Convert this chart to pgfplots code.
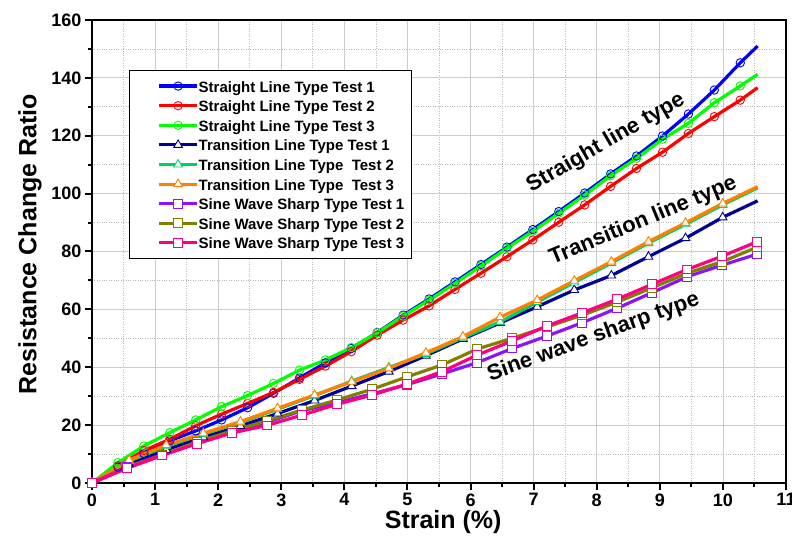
\documentclass[border=0pt]{standalone}
\usepackage{pgfplots}
\pgfplotsset{compat=1.18}
\usepackage{fontspec}
\setmainfont{Liberation Sans}
\definecolor{cS1}{RGB}{0,0,255}
\definecolor{cS2}{RGB}{255,0,0}
\definecolor{cS3}{RGB}{0,255,0}
\definecolor{cT1}{RGB}{0,0,150}
\definecolor{cT2}{RGB}{0,208,104}
\definecolor{cT3}{RGB}{255,128,0}
\definecolor{cW1}{RGB}{140,20,250}
\definecolor{cW2}{RGB}{128,128,0}
\definecolor{cW3}{RGB}{255,0,128}
\pgfplotsset{
  legend image code/.code={\path (0pt,0pt); \draw[#1, mark indices={2}] plot coordinates {(21pt,0pt) (40pt,0pt) (59pt,0pt)};},
  sline/.style={line width=3.2pt, mark=o, mark size=4.2pt, mark options={solid, fill=white, line width=0.9pt}, mark indices={1,...,26}},
  tline/.style={line width=3.2pt, mark=triangle*, mark size=5pt, mark options={solid, fill=white, line width=0.9pt}, mark indices={1,...,18}},
  wline/.style={line width=3.2pt, mark=square*, mark size=4.4pt, mark options={solid, fill=white, line width=0.9pt}},
}
\begin{document}
\begin{tikzpicture}
\begin{axis}[
  name=main, scale only axis, width=694pt, height=463pt,
  xmin=0, xmax=11, ymin=0, ymax=160,
  xtick={0,...,11}, ytick={0,20,...,160},
  minor x tick num=1, minor y tick num=1,
  grid=both,
  major grid style={draw=black!20, line width=0.8pt},
  minor grid style={draw=black!28, dotted, line width=0.8pt},
  axis line style={line width=2.5pt},
  tick align=outside, tick pos=left,
  major tick length=7pt, minor tick length=4pt,
  every tick/.style={black, line width=2pt},
  tick label style={font=\bfseries\fontsize{18}{18}\selectfont},
  /pgf/number format/assume math mode=true,
  xlabel={Strain (\%)}, ylabel={Resistance Change Ratio},
  label style={font=\bfseries\fontsize{25}{25}\selectfont},
  xlabel style={at={(axis description cs:0.506,-0.0842)}, anchor=center},
  ylabel style={at={(axis description cs:-0.0893,0.516)}, anchor=center},
  legend cell align=left,
  legend style={at={(rel axis cs:0.0533,0.892)}, anchor=north west, draw=black, line width=1pt,
    font=\bfseries\fontsize{15}{15}\selectfont, inner xsep=7pt, inner ysep=8.6pt,
    row sep=5.6pt, column sep=0pt,
    nodes={inner sep=0pt, text height=13pt, text depth=1pt}},
]
\addplot[sline, color=cS1] coordinates {(0,0) (0.411,5.5) (0.822,10.2) (1.233,14.6) (1.644,18.0) (2.055,21.8) (2.466,26.0) (2.877,31.0) (3.288,36.3) (3.699,41.5) (4.11,46.5) (4.521,52.0) (4.932,58.0) (5.343,63.6) (5.754,69.5) (6.165,75.5) (6.576,81.5) (6.987,87.6) (7.398,93.8) (7.809,100.2) (8.22,106.8) (8.631,113.0) (9.042,119.9) (9.453,127.5) (9.864,135.8) (10.275,145.2) (10.55,151.0)};
\addlegendentry{Straight Line Type Test 1}
\addplot[sline, color=cS2] coordinates {(0,0) (0.411,6.0) (0.822,11.2) (1.233,15.1) (1.644,19.8) (2.055,23.8) (2.466,27.5) (2.877,31.3) (3.288,35.8) (3.699,40.4) (4.11,45.4) (4.521,51.1) (4.932,56.3) (5.343,61.2) (5.754,66.9) (6.165,72.5) (6.576,78.2) (6.987,84.0) (7.398,90.1) (7.809,96.1) (8.22,102.5) (8.631,108.7) (9.042,114.3) (9.453,120.8) (9.864,126.6) (10.275,132.3) (10.55,136.6)};
\addlegendentry{Straight Line Type Test 2}
\addplot[sline, color=cS3] coordinates {(0,0) (0.411,7.0) (0.822,12.8) (1.233,17.4) (1.644,21.8) (2.055,26.4) (2.466,30.2) (2.877,34.4) (3.288,39.0) (3.699,42.5) (4.11,46.8) (4.521,51.9) (4.932,57.7) (5.343,63.2) (5.754,69.0) (6.165,75.0) (6.576,81.1) (6.987,87.0) (7.398,93.2) (7.809,99.5) (8.22,106.2) (8.631,112.2) (9.042,118.8) (9.453,124.3) (9.864,131.4) (10.275,137.2) (10.55,141.2)};
\addlegendentry{Straight Line Type Test 3}
\addplot[tline, color=cT1] coordinates {(0,0) (0.588,6.5) (1.176,11.5) (1.764,15.8) (2.352,19.7) (2.94,24.0) (3.528,28.5) (4.116,33.5) (4.704,38.5) (5.292,44.0) (5.88,49.8) (6.468,55.3) (7.056,60.9) (7.644,66.7) (8.232,71.7) (8.82,78.2) (9.408,84.6) (9.996,91.8) (10.55,97.5)};
\addlegendentry{Transition Line Type Test 1}
\addplot[tline, color=cT2] coordinates {(0,0) (0.588,7.6) (1.176,12.7) (1.764,16.9) (2.352,20.9) (2.94,25.5) (3.528,30.2) (4.116,35.2) (4.704,39.9) (5.292,44.6) (5.88,50.2) (6.468,55.7) (7.056,62.5) (7.644,69.3) (8.232,76.0) (8.82,82.9) (9.408,89.4) (9.996,96.1) (10.55,102.0)};
\addlegendentry{Transition Line Type\ \ Test 2}
\addplot[tline, color=cT3] coordinates {(0,0) (0.588,7.9) (1.176,13.1) (1.764,17.2) (2.352,21.2) (2.94,25.8) (3.528,30.4) (4.116,35.0) (4.704,39.6) (5.292,45.0) (5.88,50.6) (6.468,57.3) (7.056,63.2) (7.644,69.9) (8.232,76.5) (8.82,83.4) (9.408,89.9) (9.996,96.6) (10.55,102.4)};
\addlegendentry{Transition Line Type\ \ Test 3}
\addplot[wline, color=cW1] coordinates {(0,0) (0.555,5.6) (1.11,9.8) (1.665,14.0) (2.22,17.8) (2.775,21.0) (3.33,25.0) (3.885,27.8) (4.44,30.8) (4.995,34.0) (5.55,37.7) (6.105,41.6) (6.66,46.5) (7.215,50.8) (7.77,55.4) (8.325,60.4) (8.88,65.8) (9.435,71.3) (9.99,75.3) (10.545,79.1)};
\addlegendentry{Sine Wave Sharp Type Test 1}
\addplot[wline, color=cW2] coordinates {(0,0) (0.555,5.4) (1.11,9.6) (1.665,14.2) (2.22,18.0) (2.775,21.5) (3.33,25.2) (3.885,28.7) (4.44,32.4) (4.995,36.7) (5.55,40.8) (6.105,46.3) (6.66,50.0) (7.215,54.0) (7.77,58.0) (8.325,62.5) (8.88,67.5) (9.435,72.5) (9.99,76.5) (10.545,81.5)};
\addlegendentry{Sine Wave Sharp Type Test 2}
\addplot[wline, color=cW3] coordinates {(0,0) (0.555,5.1) (1.11,9.5) (1.665,13.6) (2.22,17.3) (2.775,19.9) (3.33,23.5) (3.885,27.2) (4.44,30.4) (4.995,34.2) (5.55,38.5) (6.105,44.2) (6.66,49.1) (7.215,54.3) (7.77,58.8) (8.325,63.5) (8.88,68.7) (9.435,73.8) (9.99,78.4) (10.545,83.4)};
\addlegendentry{Sine Wave Sharp Type Test 3}
\node[rotate=30, font=\bfseries\fontsize{22}{22}\selectfont] at (axis cs:8.146,117.5) {Straight line type};
\node[rotate=22.5, font=\bfseries\fontsize{22}{22}\selectfont] at (axis cs:8.737,90.5) {Transition line type};
\node[rotate=20, font=\bfseries\fontsize{22}{22}\selectfont] at (axis cs:7.948,50.3) {Sine wave sharp type};
\end{axis}
\pgfresetboundingbox
\path[use as bounding box] ([shift={(-92pt,-62pt)}]main.south west) rectangle ([shift={(6pt,20pt)}]main.north east);
\end{tikzpicture}
\end{document}
